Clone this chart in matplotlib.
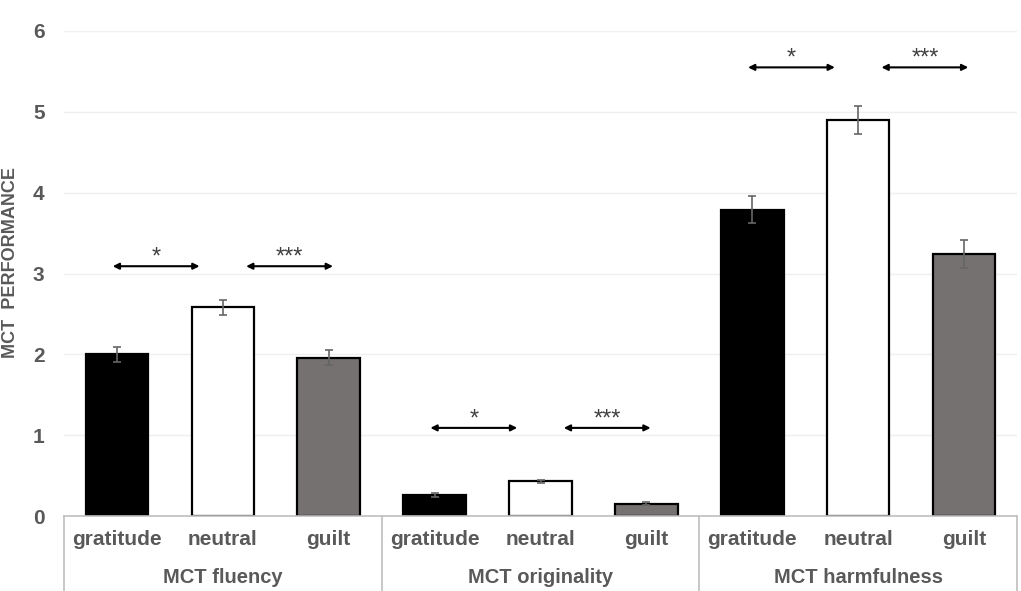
import numpy as np
import matplotlib.pyplot as plt
from matplotlib.transforms import blended_transform_factory

# ---------------- data ----------------
groups = ['MCT fluency', 'MCT originality', 'MCT harmfulness']
conditions = ['gratitude', 'neutral', 'guilt']
means = [
    [2.00, 2.58, 1.96],   # fluency
    [0.26, 0.43, 0.15],   # originality
    [3.79, 4.90, 3.24],   # harmfulness
]
errors = [
    [0.09, 0.09, 0.09],
    [0.03, 0.02, 0.02],
    [0.17, 0.17, 0.17],
]
# significance arrows: height per group, labels left/right
sig_heights = [3.09, 1.09, 5.55]
sig_labels = ['*', '***']

bar_colors = ['#000000', '#ffffff', '#767171']
text_col = '#595959'
line_col = '#bfbfbf'

plt.rcParams['font.family'] = ['Liberation Sans', 'DejaVu Sans']

fig = plt.figure(figsize=(10.21, 5.91), dpi=100)
ax = fig.add_axes([64 / 1021, 75 / 591, 953 / 1021, 485 / 591])

n_cond = len(conditions)
x_all = []
labels_all = []
for g, grp in enumerate(groups):
    xs = np.arange(n_cond) + g * n_cond
    ax.bar(xs, means[g], width=0.59, color=bar_colors, edgecolor='black',
           linewidth=1.6, zorder=3)
    ax.errorbar(xs, means[g], yerr=errors[g], fmt='none', ecolor='#666666',
                elinewidth=1.2, capsize=3, capthick=1.2, zorder=4)
    x_all.extend(xs)
    labels_all.extend(conditions)

    # significance arrows
    base = g * n_cond
    h = sig_heights[g]
    for (x0, x1), lab in zip([(-0.04, 0.78), (1.22, 2.04)], sig_labels):
        ax.annotate('', xy=(base + x1, h), xytext=(base + x0, h),
                    arrowprops=dict(arrowstyle='<|-|>', color='black', lw=1.5,
                                    mutation_scale=9, shrinkA=0, shrinkB=0),
                    zorder=5)
        ax.text(base + (x0 + x1) / 2, h + 0.03, lab, ha='center', va='baseline',
                fontsize=17, color='#404040')

ax.set_xlim(-0.5, len(x_all) - 0.5)
ax.set_ylim(0, 6)
ax.set_yticks(range(0, 7))
ax.set_xticks(x_all)
ax.set_xticklabels(labels_all)
ax.tick_params(axis='x', length=0, pad=10, labelsize=15, labelcolor=text_col)
ax.tick_params(axis='y', length=0, pad=14, labelsize=15, labelcolor=text_col)
for lab in ax.get_xticklabels() + ax.get_yticklabels():
    lab.set_fontweight('bold')

ax.grid(axis='y', color='#efefef', linewidth=1, zorder=0)
ax.set_axisbelow(True)
for s in ['top', 'right', 'left']:
    ax.spines[s].set_visible(False)
ax.spines['bottom'].set_color(line_col)
ax.spines['bottom'].set_linewidth(1.2)
ax.spines['bottom'].set_zorder(6)

# group separators and group labels below the axis
trans = blended_transform_factory(ax.transData, ax.transAxes)
for g in range(len(groups) + 1):
    xb = g * n_cond - 0.5
    ax.plot([xb, xb], [0, -0.2], color=line_col, lw=1.2, transform=trans,
            clip_on=False)
for g, grp in enumerate(groups):
    ax.text(g * n_cond + 1, -0.126, grp, transform=trans, ha='center',
            va='center', fontsize=14.5, fontweight='bold', color=text_col)

fig.text(11 / 1021, 1 - 262 / 591, 'MCT  PERFORMANCE', rotation=90,
         ha='center', va='center', fontsize=13, fontweight='bold', color=text_col)

fig.savefig('out.png', dpi=100)
